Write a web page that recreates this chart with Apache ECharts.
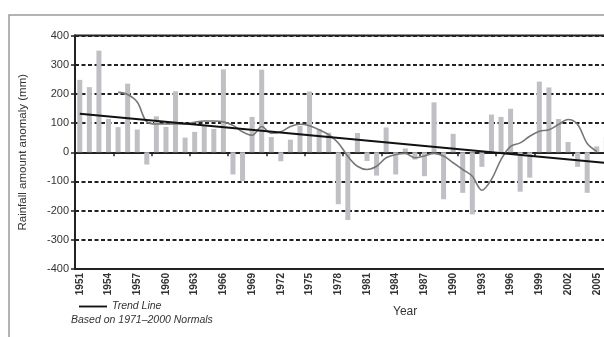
<!DOCTYPE html>
<html>
<head>
<meta charset="utf-8">
<script src="https://cdn.jsdelivr.net/npm/echarts@6/dist/echarts.min.js"></script>
<style>
html,body{margin:0;padding:0;background:#fff;}
#c{width:604px;height:337px;}
</style>
</head>
<body>
<div id="c"></div>
<script>
// ---- data ----
var years = [];
for (var y = 1951; y <= 2007; y++) years.push(String(y));

var anomaly = [
  248, 223, 348, 114, 86, 235, 78, -42, 123, 87,      // 1951-1960
  209, 50, 70, 90, 80, 284, -76, -99, 121, 283,        // 1961-1970
  52, -31, 43, 90, 208, 80, 67, -178, -232, 66,        // 1971-1980
  -30, -80, 85, -76, 13, -25, -82, 171, -161, 63,      // 1981-1990
  -139, -213, -50, 129, 121, 149, -135, -87, 242, 222, // 1991-2000
  114, 35, -50, -139, 20, 52, null                     // 2001-2007
];

var smoothed = [
  null, null, null, null, 205, 198, 172, 104, 97, 97,  // 1951-1960
  97, 97, 103, 107, 107, 104, 92, 70, 58, 88,          // 1961-1970
  65, 70, 88, 96, 91, 77, 60, 32, -14, -48,            // 1971-1980
  -59, -48, -19, -8, -4, -19, -13, -4, -13, -36,       // 1981-1990
  -59, -82, -130, -93, -25, 20, 32, 55, 72, 77,        // 1991-2000
  95, 112, 95, 30, 3, null, null                       // 2001-2007
];

var trendYears = ['1951', '2007'];
var trendValues = [132, -40];

// ---- chart ----
var chart = echarts.init(document.getElementById('c'), null, {renderer: 'canvas'});
var axisFont = 'Liberation Sans, Arial, sans-serif';

var option = {
  animation: false,
  backgroundColor: '#fff',
  grid: {
    left: 75, top: 35.5, bottom: 68, right: -16.7,
    outerBoundsMode: 'none', containLabel: false,
    show: true, borderColor: '#222', borderWidth: 2, backgroundColor: 'transparent'
  },
  legend: {
    left: 74, top: 296,
    itemWidth: 28, itemHeight: 2, itemGap: 6,
    data: [{name: 'Trend Line', icon: 'path://M0,0H30V2H0Z'}],
    textStyle: {fontFamily: axisFont, fontStyle: 'italic', fontSize: 10.5, color: '#333'}
  },
  xAxis: [
    {
      type: 'category', data: years, gridIndex: 0, position: 'bottom',
      boundaryGap: true,
      axisLine: {show: true, onZero: false, lineStyle: {color: '#222', width: 2}},
      axisTick: {show: false},
      axisLabel: {
        interval: 2, rotate: 90, margin: 4,
        fontFamily: axisFont, fontSize: 10, fontWeight: 'bold', color: '#333'
      },
      splitLine: {show: false}
    },
    {
      type: 'category', data: years, gridIndex: 0, position: 'top',
      boundaryGap: true,
      axisLine: {show: true, onZero: true, lineStyle: {color: '#222', width: 2}},
      axisTick: {show: true, inside: true, length: 4, lineStyle: {color: '#222', width: 1.5}},
      axisLabel: {show: false},
      splitLine: {show: false}
    }
  ],
  yAxis: {
    type: 'value', min: -400, max: 400, interval: 100,
    name: 'Rainfall amount anomaly (mm)', nameLocation: 'middle', nameGap: 46,
    nameTextStyle: {fontFamily: axisFont, fontSize: 11.5, color: '#333'},
    axisLine: {show: true, lineStyle: {color: '#222', width: 2}},
    axisTick: {show: true, length: 4, lineStyle: {color: '#222', width: 1.5}},
    axisLabel: {fontFamily: axisFont, fontSize: 11, color: '#333', margin: 6},
    splitLine: {show: true, lineStyle: {color: '#222', width: 2, type: [4, 2.5]}}
  },
  series: [
    {
      name: 'Anomaly', type: 'bar', xAxisIndex: 0, data: anomaly,
      barWidth: 5, itemStyle: {color: '#bfbfc4'}, z: 1
    },
    {
      name: 'Smoothed', type: 'line', xAxisIndex: 0, data: smoothed,
      smooth: 0.35, showSymbol: false, connectNulls: false,
      lineStyle: {color: '#777', width: 1.6}, z: 3
    },
    {
      name: 'Trend Line', type: 'line', xAxisIndex: 0,
      data: [[trendYears[0], trendValues[0]], [trendYears[1], trendValues[1]]],
      showSymbol: false, lineStyle: {color: '#111', width: 2}, itemStyle: {color: '#111'}, z: 4
    }
  ],
  graphic: [
    {type: 'polyline', shape: {points: [[9, 337], [9, 15], [604, 15]]},
     style: {stroke: '#9a9a9a', lineWidth: 1.5, fill: null}, silent: true},
    {type: 'text', left: 71, top: 315,
     style: {text: 'Based on 1971\u20132000 Normals', font: 'italic 10.5px Liberation Sans, Arial, sans-serif', fill: '#333'}},
    {type: 'text', left: 393, top: 306,
     style: {text: 'Year', font: '12px Liberation Sans, Arial, sans-serif', fill: '#333'}}
  ]
};
chart.setOption(option);
</script>
</body>
</html>
